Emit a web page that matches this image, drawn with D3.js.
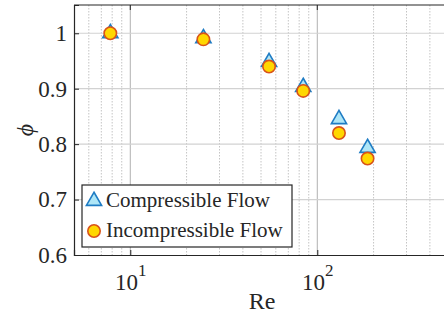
<!DOCTYPE html>
<html>
<head>
<meta charset="utf-8">
<script src="https://cdn.jsdelivr.net/npm/d3@7"></script>
</head>
<body style="margin:0">
<svg id="chart" width="444" height="326"></svg>
<script>
// Reynolds numbers and normalised flow coefficient for both flow models
const reynoldsNumbers = [7.82, 24.6, 55.2, 84.1, 130.6, 185.7];
const phiCompressible = [1.0, 0.991, 0.948, 0.903, 0.845, 0.793];
const phiIncompressible = [1.0, 0.989, 0.94, 0.896, 0.82, 0.774];
const seriesNames = ["Compressible Flow", "Incompressible Flow"];
const yTicks = [0.6, 0.7, 0.8, 0.9, 1];
const xMajorTicks = [10, 100];
const xMinorTicks = [6, 7, 8, 9, 20, 30, 40, 50, 60, 70, 80, 90, 200, 300, 400];

const FONT = "'Liberation Serif'";
const INK = "#262626";

const svg = d3.select("#chart");
const plot = { left: 74, top: 5, right: 448, bottom: 255 };

const x = d3.scaleLog().domain([5, 500]).range([plot.left, plot.right]);
const y = d3.scaleLinear().domain([0.6, 1.051]).range([plot.bottom, plot.top]);

const clipId = "plot-clip";
svg.append("defs").append("clipPath").attr("id", clipId)
  .append("rect").attr("x", plot.left).attr("y", plot.top)
  .attr("width", plot.right - plot.left).attr("height", plot.bottom - plot.top);

const grid = svg.append("g").attr("clip-path", `url(#${clipId})`);

// minor vertical grid (dotted)
grid.selectAll("line.minor").data(xMinorTicks).join("line")
  .attr("class", "minor")
  .attr("x1", d => x(d)).attr("x2", d => x(d))
  .attr("y1", plot.top).attr("y2", plot.bottom)
  .attr("stroke", "#c4c4c4").attr("stroke-width", 1)
  .attr("stroke-dasharray", "1.5,1.5");

// major vertical grid
grid.selectAll("line.major").data(xMajorTicks).join("line")
  .attr("class", "major")
  .attr("x1", d => x(d)).attr("x2", d => x(d))
  .attr("y1", plot.top).attr("y2", plot.bottom)
  .attr("stroke", "#b0b0b0").attr("stroke-width", 1);

// horizontal grid
grid.selectAll("line.hgrid").data(yTicks.slice(1)).join("line")
  .attr("class", "hgrid")
  .attr("x1", plot.left).attr("x2", plot.right)
  .attr("y1", d => y(d)).attr("y2", d => y(d))
  .attr("stroke", "#d2d2d2").attr("stroke-width", 1.2);

// y axis (ticks point inward)
const yAxis = svg.append("g").attr("transform", `translate(${plot.left},0)`)
  .call(d3.axisLeft(y).tickValues(yTicks).tickSize(-5).tickPadding(7)
    .tickFormat(d => d === 1 ? "1" : d3.format(".1f")(d)));
yAxis.attr("font-family", null).attr("font-size", null);
yAxis.select(".domain").attr("stroke", INK).attr("stroke-width", 1.2);
yAxis.selectAll(".tick line").attr("stroke", INK);
yAxis.selectAll(".tick text").style("font-family", FONT)
  .attr("font-size", 23).attr("fill", INK);

// x axis (ticks inward, labels as powers of ten)
const xAxis = svg.append("g").attr("transform", `translate(0,${plot.bottom})`)
  .call(d3.axisBottom(x).tickValues(xMajorTicks).tickSize(-5).tickFormat(""));
xAxis.attr("font-family", null).attr("font-size", null);
xAxis.select(".domain").attr("stroke", INK).attr("stroke-width", 1.2);
xAxis.selectAll(".tick line").attr("stroke", INK);
xAxis.selectAll(".tick").each(function (d) {
  const t = d3.select(this).append("text")
    .attr("y", 35).attr("text-anchor", "middle")
    .style("font-family", FONT).attr("font-size", 23).attr("fill", INK);
  t.append("tspan").text("10");
  t.append("tspan").attr("dy", -14).attr("font-size", 17)
    .text(Math.round(Math.log10(d)));
});

// top border with inward ticks
svg.append("line")
  .attr("x1", plot.left).attr("x2", plot.right)
  .attr("y1", plot.top).attr("y2", plot.top)
  .attr("stroke", INK).attr("stroke-width", 1.2);
svg.selectAll("line.toptick").data(xMajorTicks).join("line")
  .attr("class", "toptick")
  .attr("x1", d => x(d)).attr("x2", d => x(d))
  .attr("y1", plot.top).attr("y2", plot.top + 5)
  .attr("stroke", INK);

// axis titles
svg.append("text")
  .attr("x", (plot.left + plot.right) / 2 + 1).attr("y", 309)
  .attr("text-anchor", "middle").attr("fill", INK)
  .style("font-family", FONT).attr("font-size", 24).text("Re");
svg.append("text")
  .attr("transform", `translate(33,${(plot.top + plot.bottom) / 2}) rotate(-90)`)
  .attr("text-anchor", "middle").attr("fill", INK)
  .style("font-family", FONT).attr("font-size", 24)
  .attr("font-style", "italic").text("\u03d5");

// markers
const triFill = "#aee6f7", triStroke = "#1f7cc4";
const circFill = "#ffd700", circStroke = "#d95319";
const tri = d3.symbol().type(d3.symbolTriangle).size(100);

const marks = svg.append("g");
marks.selectAll("path.comp").data(reynoldsNumbers).join("path")
  .attr("class", "comp")
  .attr("d", tri)
  .attr("transform", (d, i) => `translate(${x(d)},${y(phiCompressible[i])})`)
  .attr("fill", triFill).attr("stroke", triStroke).attr("stroke-width", 1.6);
marks.selectAll("circle.incomp").data(reynoldsNumbers).join("circle")
  .attr("class", "incomp")
  .attr("cx", d => x(d)).attr("cy", (d, i) => y(phiIncompressible[i]))
  .attr("r", 6.2)
  .attr("fill", circFill).attr("stroke", circStroke).attr("stroke-width", 1.6);

// legend
const legend = svg.append("g");
legend.append("rect")
  .attr("x", 82).attr("y", 185).attr("width", 210).attr("height", 62)
  .attr("fill", "#fff").attr("stroke", INK).attr("stroke-width", 1.2);
legend.append("path").attr("d", tri)
  .attr("transform", "translate(94,201)")
  .attr("fill", triFill).attr("stroke", triStroke).attr("stroke-width", 1.6);
legend.append("circle").attr("cx", 94).attr("cy", 231).attr("r", 6.2)
  .attr("fill", circFill).attr("stroke", circStroke).attr("stroke-width", 1.6);
legend.selectAll("text.entry").data(seriesNames).join("text")
  .attr("class", "entry")
  .attr("x", 106).attr("y", (d, i) => 207 + i * 30).attr("fill", INK)
  .style("font-family", FONT).attr("font-size", 21).text(d => d);
</script>
</body>
</html>
